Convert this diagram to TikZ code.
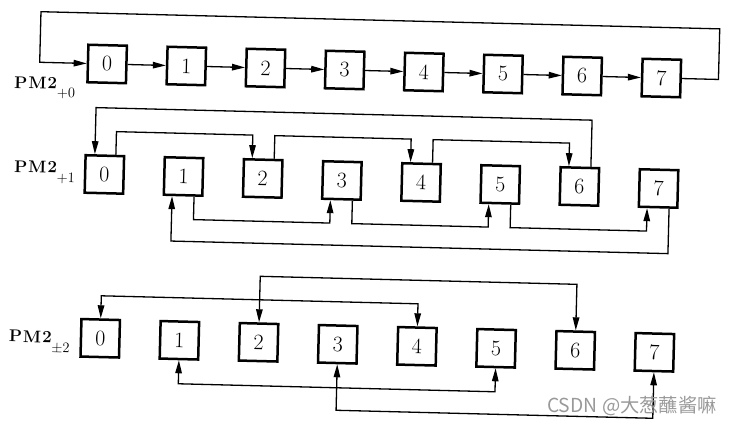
\documentclass[tikz,border=0pt]{standalone}
\usepackage{fontspec}
\newfontfamily\cjkfont{Noto Sans CJK SC}
\usetikzlibrary{arrows.meta}
\newcommand{\subsz}{\fontsize{14.5}{14.5}\selectfont\mdseries}
\begin{document}
\begin{tikzpicture}[x=1pt,y=-1pt,
  box/.style={draw,line width=2.5pt,minimum width=38.5pt,minimum height=37.5pt,inner sep=0pt,font=\fontsize{22}{22}\selectfont},
  wire/.style={line width=1.3pt},
  arr/.style={wire,-{Triangle[length=13pt,width=6.5pt]}},
  arrb/.style={wire,{Triangle[length=13pt,width=6.5pt]}-{Triangle[length=13pt,width=6.5pt]}},
  lab/.style={anchor=base west,inner sep=0pt,font=\fontsize{17}{17}\selectfont\bfseries},
  ]
\useasboundingbox (0,0) rectangle (734,425);
\begin{scope}[transform canvas={rotate around={-1.45:(367pt,-212pt)}}]
\foreach \i in {0,...,7}{
  \node[box] (a\i) at ({103.5+79.2*\i},70.6) {\i};
  \node[box] (b\i) at ({103.5+79.2*\i},181.1) {\i};
  \node[box] (c\i) at ({103.5+79.2*\i},345) {\i};
}
% labels
\node[lab] (p0) at (11,97) {P\kern1pt M\kern1pt 2\raisebox{-8pt}{\subsz +0}};
\node[lab] (p1) at (13,181) {P\kern1pt M\kern1pt 2\raisebox{-9pt}{\subsz +1}};
\node[lab] (p2) at (12,351) {P\kern1pt M\kern1pt 2\raisebox{-9pt}{\subsz ±2}};
% row 1
\foreach \i [evaluate=\i as \j using int(\i+1)] in {0,...,6}
  \draw[arr] (a\i.east) -- (a\j.west);
\coordinate (fR) at (715,20);
\coordinate (fL) at (36,20);
\draw[arr] (a7.east) -| (fR) -- (fL) |- (a0.west);
% row 2
\coordinate (t60) at (340,114.5);
\coordinate (t02) at (180,138);
\coordinate (t24) at (340,138);
\coordinate (t46) at (500,138);
\draw[arr] ([xshift=11pt]b6.north) |- (t60) -| ([xshift=-10pt]b0.north);
\draw[arr] ([xshift=11pt]b0.north) |- (t02) -| ([xshift=-11pt]b2.north);
\draw[arr] ([xshift=11pt]b2.north) |- (t24) -| ([xshift=-11pt]b4.north);
\draw[arr] ([xshift=11pt]b4.north) |- (t46) -| ([xshift=-11pt]b6.north);
\coordinate (u13) at (260,224);
\coordinate (u35) at (420,224);
\coordinate (u57) at (580,224);
\coordinate (u71) at (400,246);
\draw[arr] ([xshift=11pt]b1.south) |- (u13) -| ([xshift=-11pt]b3.south);
\draw[arr] ([xshift=11pt]b3.south) |- (u35) -| ([xshift=-11pt]b5.south);
\draw[arr] ([xshift=11pt]b5.south) |- (u57) -| ([xshift=-11pt]b7.south);
\draw[arr] ([xshift=11pt]b7.south) |- (u71) -| ([xshift=-11pt]b1.south);
% row 3
\coordinate (v04) at (260,302.5);
\coordinate (v26) at (420,279);
\coordinate (w15) at (340,388.5);
\coordinate (w37) at (500,411);
\draw[arrb] (c0.north) |- (v04) -| (c4.north);
\draw[arrb] (c2.north) |- (v26) -| (c6.north);
\draw[arrb] (c1.south) |- (w15) -| (c5.south);
\draw[arrb] (c3.south) |- (w37) -| (c7.south);
\end{scope}
\node[anchor=base west,inner sep=0pt,text=black!40,font=\cjkfont\fontsize{19.3}{19.3}\selectfont] (wm) at (547,412) {CSDN @大葱蘸酱嘛};
\end{tikzpicture}
\end{document}
